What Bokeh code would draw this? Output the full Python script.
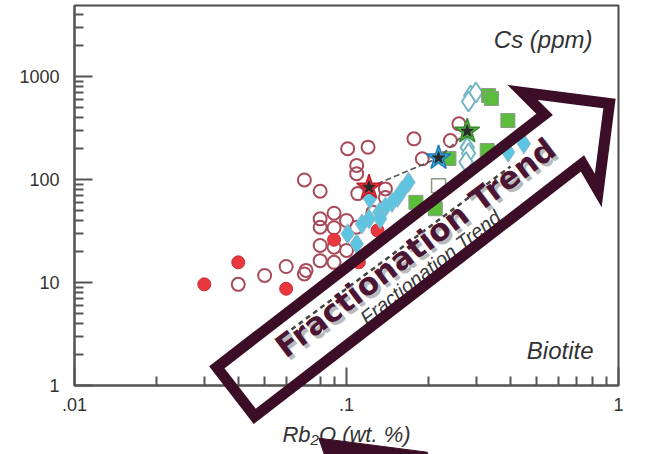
import math
from bokeh.plotting import figure
from bokeh.models import FixedTicker, CustomJSTickFormatter, Label
from bokeh.core.properties import value
from bokeh.embed import file_html
from bokeh.resources import INLINE

# ---------------- data (Rb2O wt.%, Cs ppm) ----------------
open_circle_x = [0.040, 0.050, 0.060, 0.070, 0.071, 0.080, 0.080, 0.090, 0.090, 0.080,
                 0.080, 0.090, 0.090, 0.100, 0.100, 0.109, 0.070, 0.080, 0.101, 0.120,
                 0.109, 0.109, 0.110, 0.139, 0.139, 0.177, 0.190, 0.241, 0.259, 0.125]
open_circle_y = [9.6, 11.7, 14.3, 12.1, 13.1, 22.9, 16.3, 15.7, 22.0, 34.4,
                 41.5, 34.0, 47.1, 20.5, 40.0, 34.4, 99, 77, 199, 206,
                 137, 114, 73, 81, 67, 248, 159, 239, 347, 48]

red_dot_x = [0.030, 0.040, 0.060, 0.090, 0.111, 0.130]
red_dot_y = [9.6, 15.7, 8.7, 26.0, 15.7, 32.0]

cyan_diamond_x = [0.169, 0.160, 0.154, 0.147, 0.139, 0.132, 0.122, 0.121, 0.114,
                  0.101, 0.109, 0.133, 0.449, 0.393]
cyan_diamond_y = [94, 78, 67, 60, 54, 48, 65, 41.5, 37, 29.7, 23.7, 41.5, 222, 184]

open_diamond_x = [0.286, 0.299, 0.281, 0.278, 0.281, 0.275]
open_diamond_y = [654, 699, 572, 205, 180, 148]

green_square_x = [0.333, 0.341, 0.392, 0.329, 0.238, 0.180, 0.212]
green_square_y = [654, 612, 374, 191, 160, 60, 52]

open_square_x = [0.218]
open_square_y = [87]

star_x = [0.121, 0.218, 0.278]
star_y = [84, 162, 294]
star_colors = ["#e8343c", "#36b2e6", "#5ab640"]
star_edges = ["#c0202c", "#2378b5", "#3a8a30"]

x_ticks = [0.01, 0.1, 1]
y_ticks = [1, 10, 100, 1000]

# ---------------- figure ----------------
Y_TOP = 10 ** (380 / 103)
p = figure(width=654, height=454, x_axis_type="log", y_axis_type="log",
           x_range=(0.01, 1), y_range=(1, Y_TOP),
           output_backend="svg", toolbar_location=None,
           min_border_left=74, min_border_right=36, min_border_top=5, min_border_bottom=69)
p.xgrid.visible = False
p.ygrid.visible = False
p.background_fill_color = "white"
p.border_fill_color = "white"
p.outline_line_color = "#4a4a4a"
p.outline_line_width = 2

fmt = CustomJSTickFormatter(code="var s = String(tick); return s.indexOf('0.') === 0 ? s.substring(1) : s;")
p.xaxis.ticker = FixedTicker(ticks=x_ticks,
                             minor_ticks=[k * 10.0 ** e for e in (-2, -1) for k in range(2, 10)])
p.yaxis.ticker = FixedTicker(ticks=y_ticks,
                             minor_ticks=[k * 10.0 ** e for e in range(0, 4) for k in range(2, 10)])
for ax in (p.xaxis, p.yaxis):
    ax.formatter = fmt
    ax.axis_line_color = "#555555"
    ax.axis_line_width = 2
    ax.major_tick_in = 18
    ax.major_tick_out = 0
    ax.minor_tick_in = 9
    ax.minor_tick_out = 0
    ax.major_tick_line_color = "#555555"
    ax.minor_tick_line_color = "#555555"
    ax.major_tick_line_width = 2
    ax.minor_tick_line_width = 2
    ax.major_label_text_font = "Liberation Sans"
    ax.major_label_text_font_size = "18px"
    ax.major_label_text_color = "#333333"
p.yaxis.major_label_standoff = 15
p.xaxis.major_label_standoff = 12
p.xaxis.axis_label = "Rb\u2082O (wt. %)"
p.xaxis.axis_label_text_font = "Liberation Sans"
p.xaxis.axis_label_text_font_style = "italic"
p.xaxis.axis_label_text_font_size = "22px"
p.xaxis.axis_label_text_color = "#333333"
p.xaxis.axis_label_standoff = 8

# ---------------- points ----------------
p.scatter(open_circle_x, open_circle_y, marker="circle", size=13, fill_color=None,
          line_color="#a84a5a", line_width=2)
p.scatter(red_dot_x, red_dot_y, marker="circle", size=13, fill_color="#e8383d",
          line_color="#c8303a", line_width=1)
p.scatter(cyan_diamond_x, cyan_diamond_y, marker="diamond", size=20, fill_color="#5cc6e2",
          line_color="#8fb8c8", line_width=1)
p.scatter(open_diamond_x, open_diamond_y, marker="diamond", size=20, fill_color="white",
          line_color="#72b6c4", line_width=2)
p.scatter(green_square_x, green_square_y, marker="square", size=14, fill_color="#5cbc3c",
          line_color="#8a9a8a", line_width=1)
p.scatter(open_square_x, open_square_y, marker="square", size=14, fill_color=None,
          line_color="#8a9a80", line_width=1.5)
p.line(star_x, star_y, line_dash="6 3", line_color="#555555", line_width=1.5)
p.scatter(star_x, star_y, marker="star", size=26, fill_color=star_colors,
          line_color=star_edges, line_width=1.5)
p.scatter(star_x, star_y, marker="star", size=13, fill_color="#2a2a2a", line_color="#2a2a2a")

# ---------------- decoration: screen geometry helpers ----------------
def to_x(px):
    return 10 ** ((px - 74) / 272 - 2)

def to_y(py):
    return 10 ** ((385 - py) / 103)

# dashed trend line behind the label
p.line([to_x(291), to_x(510)], [to_y(329), to_y(166)], line_dash="5 4",
       line_color="#444444", line_width=2.5)

# main label with shadow
ang = math.radians(37)
cx, cy = to_x(415), to_y(247)
p.text([cx], [cy], text=["Fractionation Trend"], angle=ang, text_align="center",
       text_baseline="middle", text_font=value("DejaVu Sans"), text_font_style="bold",
       text_font_size=value("31px"), text_color="#8a8a8a", text_alpha=0.6,
       x_offset=3, y_offset=3)
p.text([cx], [cy], text=["Fractionation Trend"], angle=ang, text_align="center",
       text_baseline="middle", text_font=value("DejaVu Sans"), text_font_style="bold",
       text_font_size=value("31px"), text_color="#4a1634")
p.text([to_x(430)], [to_y(266.7)], text=["Fractionation Trend"], angle=math.radians(38),
       text_align="center", text_baseline="middle", text_font=value("Liberation Sans"),
       text_font_style="italic", text_font_size=value("20px"), text_color="#3a3a3a")

# hollow arrow outline
th = math.radians(37.65)
ux, uy = math.cos(th), -math.sin(th)
nx, ny = -math.sin(th), -math.cos(th)
ox, oy = 230.5, 395
local = [(6, 31), (420, 31), (416, 62), (478, 0), (416, -62), (420, -31), (6, -31)]
ax_ = [to_x(ox + s * ux + t * nx) for s, t in local]
ay_ = [to_y(oy + s * uy + t * ny) for s, t in local]
arr = p.patch(ax_, ay_, fill_color=None, fill_alpha=0, line_color="#3b0d26",
              line_width=11, line_join="miter")
arr.level = "overlay"

# piece of another arrow cut at the bottom edge
bx = [to_x(v) for v in (318.3, 426.7, 432, 328)]
by = [to_y(v) for v in (437.7, 451.7, 466, 466)]
piece = p.patch(bx, by, fill_color="#3b0d26", line_color="#3b0d26", line_width=1)
piece.level = "overlay"

# corner labels
p.add_layout(Label(x=to_x(592), y=to_y(52), text="Cs (ppm)", text_align="right",
                   text_font="Liberation Sans", text_font_style="italic",
                   text_font_size="24px", text_color="#333333"))
p.add_layout(Label(x=to_x(593), y=to_y(363), text="Biotite", text_align="right",
                   text_font="Liberation Sans", text_font_style="italic",
                   text_font_size="24px", text_color="#333333"))

open("out.html", "w").write(file_html(p, INLINE))
